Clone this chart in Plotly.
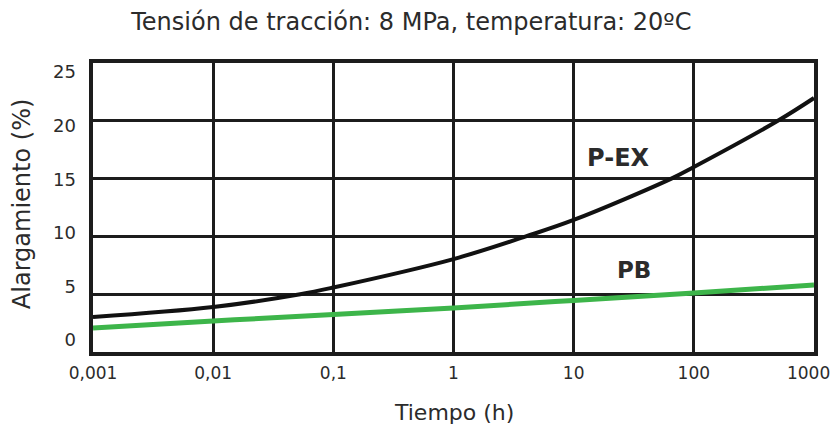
import plotly.graph_objects as go

# Data
tiempo_pex = [0.001, 0.01, 0.053, 0.1, 1, 4, 10, 65, 100, 500, 1000]
alarg_pex = [3.03, 3.89, 5.0, 5.58, 8.04, 10.0, 11.42, 15.0, 16.0, 20.0, 21.97]

tiempo_pb = [0.001, 0.01, 0.1, 1, 10, 100, 1000]
alarg_pb = [2.08, 2.68, 3.24, 3.81, 4.46, 5.10, 5.80]

x_tickvals = [0.001, 0.01, 0.1, 1, 10, 100, 1000]
x_ticktext = ["0,001", "0,01", "0,1", "1", "10", "100", "1000\u2007"]
y_tickvals = [0, 5, 10, 15, 20, 25]
y_ticktext = ["0", "5", "10", "15", "20", "25"]

FONT = "DejaVu Sans"
TXT = "#2b2b2b"
GRID = "#1c1c1c"

fig = go.Figure()
fig.add_trace(go.Scatter(x=tiempo_pex, y=alarg_pex, mode="lines",
                         line=dict(color="#111111", width=4, shape="spline", smoothing=1.0),
                         showlegend=False, hoverinfo="skip"))
fig.add_trace(go.Scatter(x=tiempo_pb, y=alarg_pb, mode="lines",
                         line=dict(color="#3db54a", width=5, shape="spline", smoothing=1.0),
                         showlegend=False, hoverinfo="skip"))
# invisible trace to activate the label axis
fig.add_trace(go.Scatter(x=[0.001], y=[0], yaxis="y2", mode="markers",
                         marker=dict(opacity=0), showlegend=False, hoverinfo="skip"))

# annotation x positions on a log axis are given as log10 values
fig.add_annotation(x=1.37, y=16.8, xref="x", yref="y", text="<b>P-EX</b>", showarrow=False,
                   font=dict(family=FONT, size=24, color=TXT))
fig.add_annotation(x=1.5, y=7.1, xref="x", yref="y", text="<b>PB</b>", showarrow=False,
                   font=dict(family=FONT, size=23, color=TXT))
# axis titles
fig.add_annotation(x=0.501, y=-0.208, xref="paper", yref="paper", text="Tiempo (h)",
                   showarrow=False, xanchor="center", yanchor="middle",
                   font=dict(family=FONT, size=22, color=TXT))
fig.add_annotation(x=-0.0983, y=0.512, xref="paper", yref="paper", text="Alargamiento (%)",
                   showarrow=False, xanchor="center", yanchor="middle", textangle=-90,
                   font=dict(family=FONT, size=24, color=TXT))

fig.update_layout(
    width=831, height=427,
    margin=dict(l=93, r=17, t=63, b=75),
    paper_bgcolor="white", plot_bgcolor="white",
    font=dict(family=FONT, color=TXT),
    title=dict(text="Tensión de tracción: 8 MPa, temperatura: 20ºC",
               x=0.495, xref="container", xanchor="center",
               y=1 - 22 / 427, yref="container", yanchor="middle",
               font=dict(family=FONT, size=24, color=TXT)),
    xaxis=dict(type="log", range=[-3, 3], tickvals=x_tickvals, ticktext=x_ticktext,
               showgrid=True, gridcolor=GRID, gridwidth=3, automargin=False,
               showline=True, linecolor=GRID, linewidth=4, mirror=True,
               ticks="", ticklabelstandoff=3, zeroline=False, ticklabeloverflow="allow",
               tickfont=dict(family=FONT, size=17, color=TXT)),
    yaxis=dict(range=[0, 25], tickvals=y_tickvals, showticklabels=False, automargin=False,
               showgrid=True, gridcolor=GRID, gridwidth=3, zeroline=False,
               showline=True, linecolor=GRID, linewidth=4, mirror=True, ticks=""),
    yaxis2=dict(overlaying="y", side="left", range=[-1.12, 25.84], automargin=False,
                tickvals=y_tickvals, ticktext=y_ticktext, showgrid=False, zeroline=False,
                showline=False, ticks="", ticklabelstandoff=16,
                tickfont=dict(family=FONT, size=18, color=TXT)),
)

fig.write_html("out.html")
